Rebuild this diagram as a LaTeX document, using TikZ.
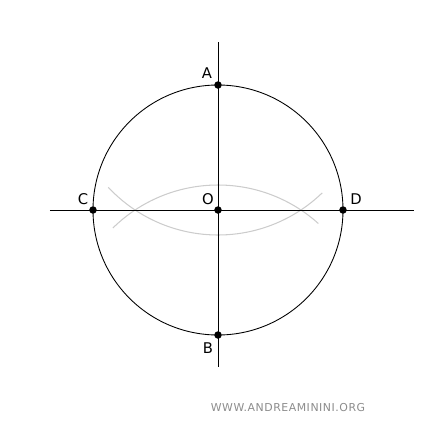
\documentclass[tikz,border=0pt]{standalone}
\usepackage{fontspec}
\setmainfont{DejaVu Sans}
\begin{document}
\begin{tikzpicture}[
    pt/.style={circle,fill=black,inner sep=0pt,minimum size=1.5mm},
    lbl/.style={font=\fontsize{8.4}{10}\selectfont,inner sep=1pt},
    arcs/.style={black!20,line width=0.6pt},
    ln/.style={line width=0.5pt} ]
  \useasboundingbox (-4.36,-4.22) rectangle (4.26,4.2);
  % construction arcs
  \draw[arcs] (0,-2.5) ++(48:3) arc[start angle=48,end angle=134.5,radius=3];
  \draw[arcs] (0,2.5) ++(223:3) arc[start angle=223,end angle=314,radius=3];
  % circle and axes
  \draw[ln] (0,0) circle (2.5);
  \coordinate (Hl) at (-3.36,0);
  \coordinate (Hr) at (3.92,0);
  \coordinate (Vt) at (0,3.36);
  \coordinate (Vb) at (0,-3.14);
  \draw[ln] (Hl) -- (Hr);
  \draw[ln] (Vt) -- (Vb);
  \node[pt] (O) at (0,0) {};
  \node[pt] (A) at (0,2.5) {};
  \node[pt] (B) at (0,-2.5) {};
  \node[pt] (C) at (-2.5,0) {};
  \node[pt] (D) at (2.5,0) {};
  \node[lbl] (lA) at (-0.22,2.74) {A};
  \node[lbl] (lB) at (-0.2,-2.76) {B};
  \node[lbl] (lC) at (-2.7,0.22) {C};
  \node[lbl] (lD) at (2.76,0.22) {D};
  \node[lbl] (lO) at (-0.2,0.22) {O};
  \node[font=\fontsize{6.2}{7}\selectfont\addfontfeature{LetterSpace=5},text=black!45] (wm) at (1.4,-3.96) {WWW.ANDREAMININI.ORG};
\end{tikzpicture}
\end{document}
